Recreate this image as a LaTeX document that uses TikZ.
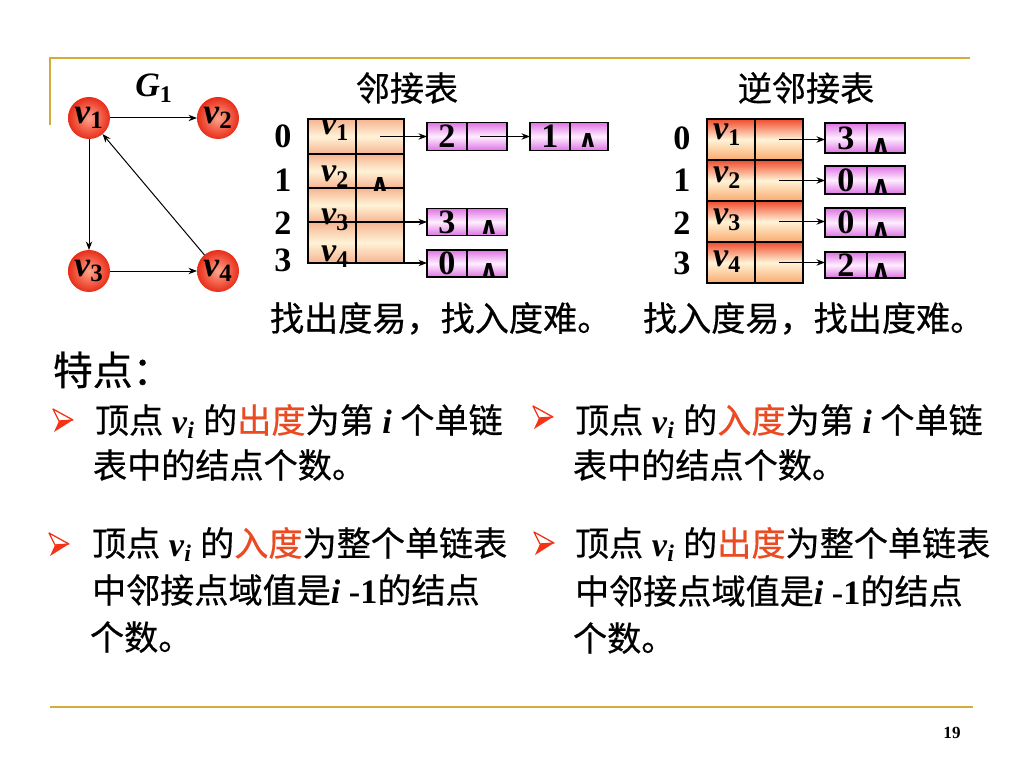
\documentclass[tikz,border=0pt]{standalone}
\usepackage{fontspec}
\setmainfont{Liberation Serif}
\newfontfamily\cjk{Noto Sans CJK SC}[FakeBold=0.5]
\newfontfamily\djv{DejaVu Sans}
\usetikzlibrary{arrows.meta}
\definecolor{gold}{RGB}{210,172,60}
\definecolor{hl}{RGB}{235,75,35}
\definecolor{bred}{RGB}{245,50,20}
\definecolor{peach}{RGB}{246,180,145}
\definecolor{cream}{RGB}{255,243,215}
\definecolor{tred}{RGB}{240,75,45}
\definecolor{torange}{RGB}{250,170,110}
\definecolor{vio}{RGB}{222,115,228}
\definecolor{vlight}{RGB}{255,238,255}
\definecolor{ballin}{RGB}{255,165,140}
\definecolor{ballout}{RGB}{232,45,25}
\newcommand\fsz[1]{\fontsize{#1}{#1}\selectfont}
\newcommand\vx[1]{\textbf{\textit{v}}\textsubscript{\textbf{#1}}}
\newcommand\pxu{0.703125pt}
\newcommand\wsym{{\djv\bfseries ∧}}
\begin{document}
\begin{tikzpicture}[x=0.703125pt, y=-0.703125pt,
  every node/.style={inner sep=0pt, outer sep=0pt},
  gnode/.style={circle, minimum size=42*\pxu, inner color=ballin, outer color=ballout, font=\fsz{25}},
  garr/.style={-{Stealth[length=6pt,width=4.5pt]}, line width=0.7pt},
  tarr/.style={-{Stealth[length=6pt,width=4.5pt]}, line width=0.8pt},
  lcell/.style={draw, line width=1pt, top color=peach, bottom color=peach, middle color=cream, minimum width=48*\pxu},
  rcell/.style={draw, line width=1pt, top color=tred, bottom color=torange, middle color=cream, minimum width=48*\pxu},
  lbox/.style={draw, line width=1.3pt, top color=vio, bottom color=vio, middle color=vlight, font=\fsz{24}\bfseries},
  txt/.style={font=\fsz{24}},
  num/.style={font=\fsz{24}\bfseries},
  cn/.style={font=\fsz{24}\cjk},
  wmark/.style={font=\fsz{17}}]
\useasboundingbox (0,0) rectangle (1024,768);
\fill[white] (0,0) rectangle (1024,768);
% frame lines
\draw[gold, line width=1.4pt] (50,125) -- (50,58) -- (970,58);
\draw[gold, line width=1.4pt] (50,707) -- (973,707);
% graph
\node[txt, anchor=base] (g1) at (154,97) {\textbf{\textit{G}}\textsubscript{\textbf{1}}};
\node[gnode] (v1) at (89,118) {\vx{1}};
\node[gnode] (v2) at (218,118) {\vx{2}};
\node[gnode] (v3) at (89,271) {\vx{3}};
\node[gnode] (v4) at (218,271) {\vx{4}};
\draw[garr] (v1) -- (v2);
\draw[garr] (v1) -- (v3);
\draw[garr] (v3) -- (v4);
\draw[garr] (v4) -- (v1);
% titles
\node[cn, anchor=base] (t-adj) at (407,101) {邻接表};
\node[cn, anchor=base] (t-inv) at (806,101) {逆邻接表};
% left table
\node[lcell, minimum height=35*\pxu] (L0a) at (332,136.5) {};
\node[lcell, minimum height=35*\pxu] (L0b) at (380,136.5) {};
\node[lcell, minimum height=34*\pxu] (L1a) at (332,171) {};
\node[lcell, minimum height=34*\pxu] (L1b) at (380,171) {};
\node[lcell, minimum height=34*\pxu] (L2a) at (332,205) {};
\node[lcell, minimum height=34*\pxu] (L2b) at (380,205) {};
\node[lcell, minimum height=41*\pxu] (L3a) at (332,242.5) {};
\node[lcell, minimum height=41*\pxu] (L3b) at (380,242.5) {};
\draw[line width=1.8pt] (L0a.north west) rectangle (L3b.south east);
\node[num, anchor=base] (li0) at (283,148) {0};
\node[num, anchor=base] (li1) at (283,192) {1};
\node[num, anchor=base] (li2) at (283,235) {2};
\node[num, anchor=base] (li3) at (283,272) {3};
\node[txt, anchor=base west] (lv1) at (321,135) {\vx{1}};
\node[txt, anchor=base west] (lv2) at (321,182) {\vx{2}};
\node[txt, anchor=base west] (lv3) at (321,225) {\vx{3}};
\node[txt, anchor=base west] (lv4) at (321,262) {\vx{4}};
\node[wmark] (lw1) at (380,185) {\wsym};
% left lists
\node[lbox, minimum width=40*\pxu, minimum height=28*\pxu] (A0) at (447,136.5) {2};
\node[lbox, minimum width=40*\pxu, minimum height=28*\pxu] (A0n) at (487,136.5) {};
\node[lbox, minimum width=40*\pxu, minimum height=28*\pxu] (B0) at (550,136.5) {1};
\node[lbox, minimum width=38*\pxu, minimum height=28*\pxu] (B0n) at (589,136.5) {};
\node[wmark] (wB0) at (588,141) {\wsym};
\node[lbox, minimum width=40*\pxu, minimum height=27*\pxu] (A2) at (447,222) {3};
\node[lbox, minimum width=40*\pxu, minimum height=27*\pxu] (A2n) at (487,222) {};
\node[wmark] (wA2) at (489,228) {\wsym};
\node[lbox, minimum width=40*\pxu, minimum height=27*\pxu] (A3) at (447,263.5) {0};
\node[lbox, minimum width=40*\pxu, minimum height=27*\pxu] (A3n) at (487,263.5) {};
\node[wmark] (wA3) at (489,270) {\wsym};
\coordinate (p0) at (480,136.5);
\draw[tarr] (L0b.center) -- (L0b.center -| A0.west);
\draw[tarr] (p0) -- (p0 -| B0.west);
\draw[tarr] (L2b.south) -- (L2b.south -| A2.west);
\draw[tarr] (L3b.south) -- (L3b.south -| A3.west);
% right table
\node[rcell, minimum height=41*\pxu] (M0a) at (731,139.5) {};
\node[rcell, minimum height=41*\pxu] (M0b) at (779,139.5) {};
\node[rcell, minimum height=41*\pxu] (M1a) at (731,180.5) {};
\node[rcell, minimum height=41*\pxu] (M1b) at (779,180.5) {};
\node[rcell, minimum height=41*\pxu] (M2a) at (731,221.5) {};
\node[rcell, minimum height=41*\pxu] (M2b) at (779,221.5) {};
\node[rcell, minimum height=41*\pxu] (M3a) at (731,262.5) {};
\node[rcell, minimum height=41*\pxu] (M3b) at (779,262.5) {};
\draw[line width=1.8pt] (M0a.north west) rectangle (M3b.south east);
\node[num, anchor=base] (ri0) at (682,150) {0};
\node[num, anchor=base] (ri1) at (682,192) {1};
\node[num, anchor=base] (ri2) at (682,235) {2};
\node[num, anchor=base] (ri3) at (682,275) {3};
\node[txt, anchor=base west] (rv1) at (713,140) {\vx{1}};
\node[txt, anchor=base west] (rv2) at (713,183) {\vx{2}};
\node[txt, anchor=base west] (rv3) at (713,225) {\vx{3}};
\node[txt, anchor=base west] (rv4) at (713,267) {\vx{4}};
% right lists
\node[lbox, minimum width=42*\pxu, minimum height=30*\pxu] (R0) at (846,138) {3};
\node[lbox, minimum width=38*\pxu, minimum height=30*\pxu] (R0n) at (886,138) {};
\node[wmark] (wR0) at (881,145.5) {\wsym};
\node[lbox, minimum width=42*\pxu, minimum height=28*\pxu] (R1) at (846,180) {0};
\node[lbox, minimum width=38*\pxu, minimum height=28*\pxu] (R1n) at (886,180) {};
\node[wmark] (wR1) at (881,186.5) {\wsym};
\node[lbox, minimum width=42*\pxu, minimum height=29*\pxu] (R2) at (846,222.5) {0};
\node[lbox, minimum width=38*\pxu, minimum height=29*\pxu] (R2n) at (886,222.5) {};
\node[wmark] (wR2) at (881,229.5) {\wsym};
\node[lbox, minimum width=42*\pxu, minimum height=26*\pxu] (R3) at (846,265) {2};
\node[lbox, minimum width=38*\pxu, minimum height=26*\pxu] (R3n) at (886,265) {};
\node[wmark] (wR3) at (881,270.5) {\wsym};
\draw[tarr] (M0b.center) -- (M0b.center -| R0.west);
\draw[tarr] (M1b.center) -- (M1b.center -| R1.west);
\draw[tarr] (M2b.center) -- (M2b.center -| R2.west);
\draw[tarr] (M3b.center) -- (M3b.center -| R3.west);
% captions
\node[cn, anchor=base west] (cap1) at (270,331) {找出度易，找入度难。};
\node[cn, anchor=base west] (cap2) at (643,331) {找入度易，找出度难。};
\node[font=\fsz{28}\cjk, anchor=base west] (tz) at (53,385) {特点：};
% bullets
\foreach \bx/\by in {63/420, 543/417, 59/544, 544/543}{
  \begin{scope}[shift={(\bx,\by)}]
    \fill[bred] (-4,1) -- (10,0) -- (-9,12) -- cycle;
    \filldraw[fill=white, draw=bred, line width=0.9pt, line join=round] (-10,-11) -- (10,0) -- (-4,1) -- cycle;
  \end{scope}
}
\node[txt, anchor=base west] (t1a) at (95,433) {{\cjk 顶点} \vx{\textit{i}} {\cjk 的\textcolor{hl}{出度}为第} \textbf{\textit{i}} {\cjk 个单链}};
\node[txt, anchor=base west] (t1b) at (93,478) {\cjk 表中的结点个数。};
\node[txt, anchor=base west] (t2a) at (575,433) {{\cjk 顶点} \vx{\textit{i}} {\cjk 的\textcolor{hl}{入度}为第} \textbf{\textit{i}} {\cjk 个单链}};
\node[txt, anchor=base west] (t2b) at (573,478) {\cjk 表中的结点个数。};
\node[txt, anchor=base west] (t3a) at (92,556) {{\cjk 顶点} \vx{\textit{i}} {\cjk 的\textcolor{hl}{入度}为整个单链表}};
\node[txt, anchor=base west] (t3b) at (92,603) {{\cjk 中邻接点域值是}\textbf{\textit{i}} \textbf{-1}{\cjk 的结点}};
\node[txt, anchor=base west] (t3c) at (90,650) {\cjk 个数。};
\node[txt, anchor=base west] (t4a) at (575,556) {{\cjk 顶点} \vx{\textit{i}} {\cjk 的\textcolor{hl}{出度}为整个单链表}};
\node[txt, anchor=base west] (t4b) at (575,604) {{\cjk 中邻接点域值是}\textbf{\textit{i}} \textbf{-1}{\cjk 的结点}};
\node[txt, anchor=base west] (t4c) at (573,651) {\cjk 个数。};
\node[font=\fsz{12}\bfseries, anchor=base] (pg) at (952,738) {19};
\end{tikzpicture}
\end{document}
